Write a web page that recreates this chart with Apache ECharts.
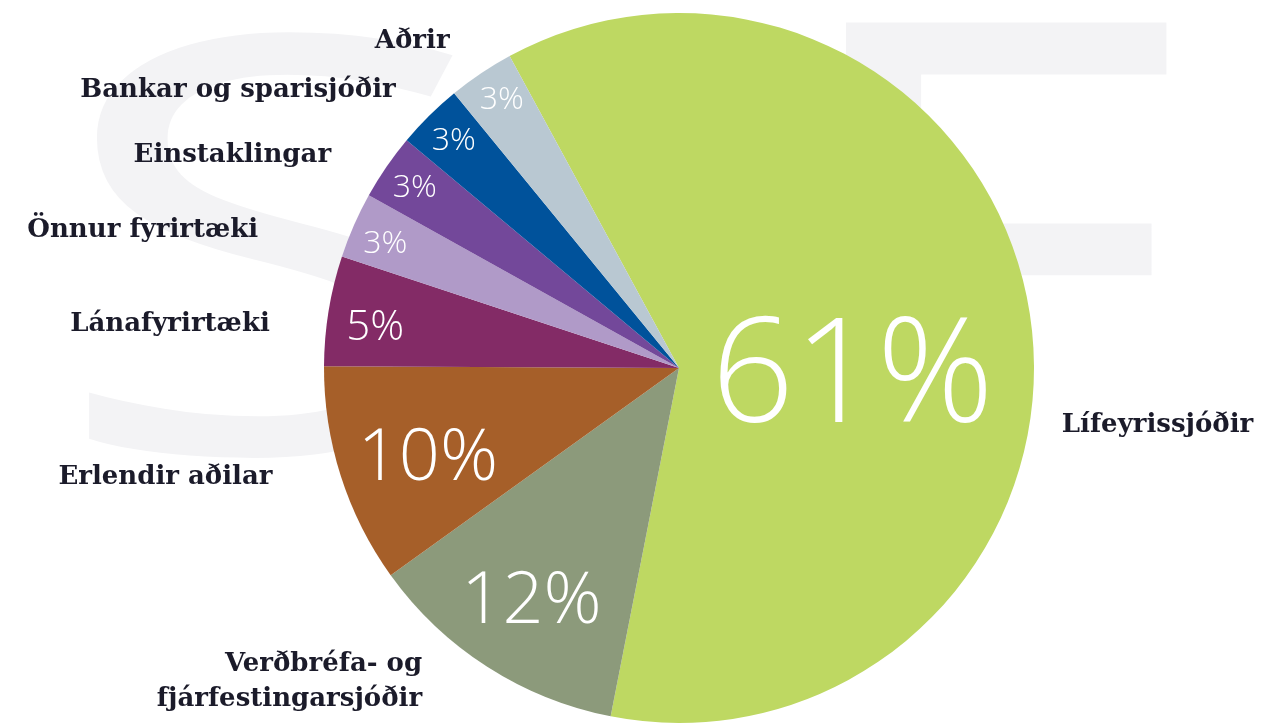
<!DOCTYPE html>
<html>
<head>
<meta charset="utf-8">
<script src="https://cdn.jsdelivr.net/npm/echarts@6/dist/echarts.min.js"></script>
<style>
  html, body { margin: 0; padding: 0; background: #fff; }
  #chart { width: 1266px; height: 726px; }
</style>
</head>
<body>
<div id="chart"></div>
<script>
// Eigendur – skipting (%)
const names = [
  'Lífeyrissjóðir',
  'Verðbréfa- og\nfjárfestingarsjóðir',
  'Erlendir aðilar',
  'Lánafyrirtæki',
  'Önnur fyrirtæki',
  'Einstaklingar',
  'Bankar og sparisjóðir',
  'Aðrir',
];
const shares = [61, 12, 10, 5, 3, 3, 3, 3];
const colors = ['#bed862', '#8c9a7b', '#a65f29', '#832b66', '#b09ac8', '#73489a', '#00529b', '#b9c8d2'];

// hlutfallsmerki: leturstærð, hringur og smá hliðrun
const pctSize = [145, 72, 72, 42, 32, 32, 32, 32];
const pctRing = ['full', 'mid', 'mid', 'edge', 'edge', 'edge', 'edge', 'edge'];
const pctShift = [[-5, 40], [0, 5], [9, 8], [15, 12], [2, 6], [2, 3], [2, 2], [3, 0]];
// hliðrun nafnamerkja frá sjálfgefinni staðsetningu
const nameShift = [[12, 113], [-52, 2], [-49, -3], [-39, 16], [-77, 11], [-38, -3], [-18, -15], [-18, -20]];

const CENTER = [679, 368];
const R = 355;
const START = 118.5;

const chart = echarts.init(document.getElementById('chart'));

function pctSeries(ring, radius) {
  return {
    type: 'pie',
    center: CENTER,
    radius: radius,
    startAngle: START,
    silent: true,
    avoidLabelOverlap: false,
    z: 4,
    itemStyle: { color: 'transparent' },
    labelLine: { show: false },
    emphasis: { disabled: true },
    labelLayout: (p) => ({ dx: pctShift[p.dataIndex][0], dy: pctShift[p.dataIndex][1] }),
    data: shares.map((v, i) => ({
      name: names[i],
      value: v,
      label: {
        show: pctRing[i] === ring,
        position: 'inside',
        formatter: v + '%',
        color: '#fff',
        fontFamily: 'Open Sans',
        fontWeight: 300,
        fontSize: pctSize[i],
      },
    })),
  };
}

chart.setOption({
  animation: false,
  backgroundColor: '#fff',
  graphic: [
    {
      // SF vatnsmerki í bakgrunni
      type: 'text', x: 46, y: 287, z: 0, silent: true, scaleX: 1.45,
      style: {
        text: 'S', fontFamily: 'Open Sans', fontWeight: 'normal', fontSize: 580,
        fill: '#f3f3f5', align: 'left', verticalAlign: 'middle',
      },
    },
    {
      type: 'text', x: 775, y: 284, z: 0, silent: true, scaleX: 1.3,
      style: {
        text: 'F', fontFamily: 'Open Sans', fontWeight: 'normal', fontSize: 600,
        fill: '#f3f3f5', stroke: '#f3f3f5', lineWidth: 8,
        align: 'left', verticalAlign: 'middle',
      },
    },
  ],
  series: [
    {
      type: 'pie',
      center: CENTER,
      radius: R,
      startAngle: START,
      silent: true,
      avoidLabelOverlap: false,
      z: 3,
      emphasis: { disabled: true },
      label: {
        show: true,
        position: 'outside',
        color: '#1b1b2a',
        fontFamily: 'DejaVu Serif',
        fontWeight: 'bold',
        fontSize: 26,
        lineHeight: 35,
        align: 'right',
      },
      labelLine: { show: false, length: 15, length2: 0 },
      labelLayout: (p) => ({ dx: nameShift[p.dataIndex][0], dy: nameShift[p.dataIndex][1] }),
      data: shares.map((v, i) => ({ name: names[i], value: v, itemStyle: { color: colors[i] } })),
    },
    pctSeries('full', [0, R]),
    pctSeries('mid', [185, R]),
    pctSeries('edge', [285, R]),
  ],
});
</script>
</body>
</html>
